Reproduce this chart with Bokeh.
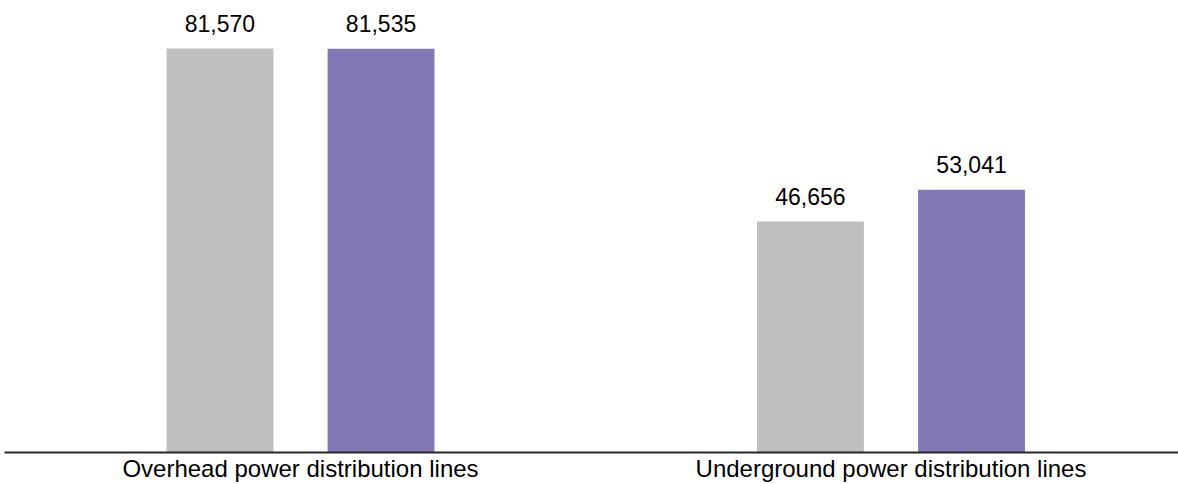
from bokeh.plotting import figure
from bokeh.models import Range1d, ColumnDataSource, FixedTicker
from bokeh.embed import file_html
from bokeh.resources import INLINE
from bokeh.core.properties import value

categories = ["Overhead power distribution lines", "Underground power distribution lines"]
series_a = [81570, 46656]
series_b = [81535, 53041]
colors = ["#BFBFBF", "#8378B5"]

pos = [i + 0.5 for i in range(len(categories))]
off = 0.1364
bw = 0.181

p = figure(width=1178, height=484, output_backend="svg", toolbar_location=None,
           x_range=Range1d(-0.00127, 1.98689), y_range=Range1d(0, 91260),
           min_border_left=4, min_border_right=0, min_border_top=0, min_border_bottom=30)
p.outline_line_color = None
p.background_fill_color = None
p.border_fill_color = None
p.xgrid.visible = False
p.ygrid.visible = False
p.yaxis.visible = False

for vals, dx, c in [(series_a, -off, colors[0]), (series_b, off, colors[1])]:
    src = ColumnDataSource(dict(x=[q + dx for q in pos], top=vals,
                                lab=[f"{v:,}" for v in vals]))
    p.vbar(x="x", top="top", bottom=0, width=bw, source=src, fill_color=c, line_color=None)
    p.text(x="x", y="top", text="lab", source=src, text_align="center", text_baseline="alphabetic",
           y_offset=-25, text_font=value("Liberation Sans"), text_font_size="23px", text_color="#000000")

ax = p.xaxis[0]
ax.ticker = FixedTicker(ticks=pos)
ax.major_label_overrides = {q: c for q, c in zip(pos, categories)}
ax.major_tick_line_color = None
ax.minor_tick_line_color = None
ax.major_tick_out = 0
ax.major_tick_in = 0
ax.axis_line_color = "#262626"
ax.axis_line_width = 2
ax.major_label_text_font = "Liberation Sans"
ax.major_label_text_font_size = "24px"
ax.major_label_text_color = "#000000"
ax.major_label_standoff = 2

open("out.html", "w").write(file_html(p, INLINE))
